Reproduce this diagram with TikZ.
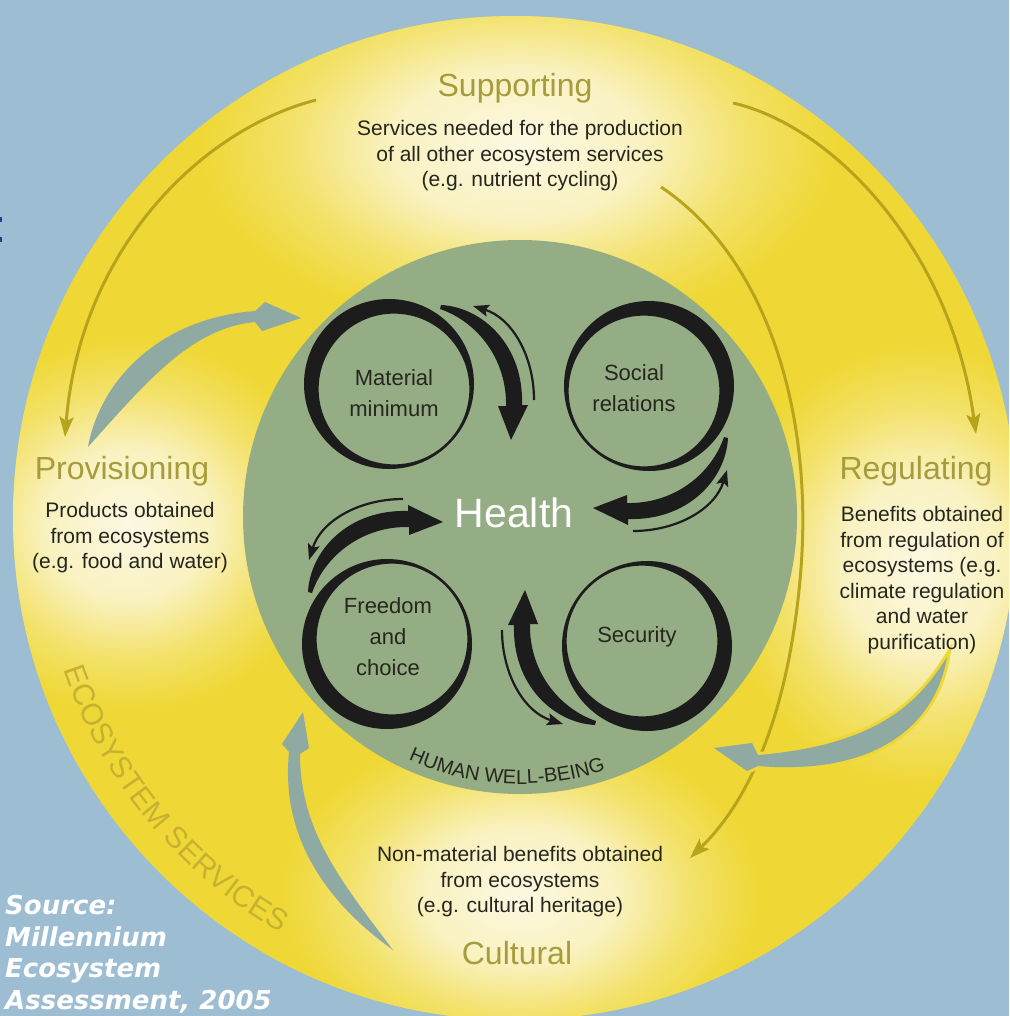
\documentclass[tikz,border=0pt]{standalone}
\usepackage{fontspec}
\setmainfont{Liberation Sans}
\newfontfamily\srcfont{DejaVu Sans}
\usetikzlibrary{arrows.meta,decorations.text,shadings}
\definecolor{bgblue}{HTML}{9DBDD3}
\definecolor{ringyel}{HTML}{EFD836}
\definecolor{glowc}{HTML}{FCF8E2}
\definecolor{wbgreen}{HTML}{95AD84}
\definecolor{olivel}{HTML}{B8A41C}
\definecolor{titleol}{HTML}{A69C3C}
\definecolor{swooshc}{HTML}{8EAAA2}
\definecolor{ink}{HTML}{1C1C1C}
\definecolor{bodyc}{HTML}{26261E}
\definecolor{esol}{HTML}{C6B230}
\definecolor{markblue}{HTML}{1F3F8F}
\pgfdeclareradialshading{glow}{\pgfpoint{0bp}{0bp}}{color(0bp)=(glowc); color(9bp)=(glowc!80!ringyel); color(16bp)=(glowc!30!ringyel); color(22bp)=(ringyel); color(50bp)=(ringyel)}
\tikzset{
  svctitle/.style={text=titleol, font=\fontsize{32}{36}\selectfont, inner sep=0},
  svcbody/.style={text=bodyc, align=center, font=\fontsize{21}{25.5}\selectfont, inner sep=0},
  wblabel/.style={text=bodyc, align=center, font=\fontsize{22}{31}\selectfont, inner sep=0},
  ringarrow/.style={draw=olivel, line width=3, -{Stealth[length=20pt,width=14pt,inset=4pt]}},
  swooshfill/.style={fill=swooshc},
  thinarrow/.style={draw=ink, line width=2.2, -{Stealth[length=16pt,width=12pt,inset=3pt]}},
}
\newcommand\wbquad{%
  \fill[ink] (389,384) circle[radius=85];
  \fill[wbgreen] (394,389) circle[radius=76];
  \draw[ink,line width=1.3] (394,389) circle[radius=76];
  \fill[ink] (441,305) .. controls (482,307) and (524,345) .. (522,405) -- (528,405) -- (511,440) -- (498,406) -- (506,406) .. controls (507,360) and (478,322) .. (440,309) -- cycle;
  \draw[thinarrow] (534,400) .. controls (534,356) and (512,318) .. (473,306);
}
\begin{document}
\begin{tikzpicture}[x=1pt,y=-1pt]
\useasboundingbox (0,0) rectangle (1009,1016);
\begin{scope}
\clip (0,0) rectangle (1009,1016);
\fill[bgblue] (0,0) rectangle (1009,1016);
\fill[markblue] (0,217) rectangle (2,222);
\fill[markblue] (0,237) rectangle (2,242);
\fill[ringyel] (515,518) circle[radius=502];
\begin{scope}
  \clip (515,518) circle[radius=502];
  \shade[shading=glow] (518,145) ellipse[x radius=360, y radius=210];
  \shade[shading=glow] (128,525) ellipse[x radius=230, y radius=210];
  \shade[shading=glow] (920,565) ellipse[x radius=220, y radius=250];
  \shade[shading=glow] (520,895) ellipse[x radius=270, y radius=190];
\end{scope}
% olive service arrows
\draw[ringarrow] (316,100) .. controls (200,130) and (80,250) .. (65,437);
\draw[ringarrow] (733,103) .. controls (830,125) and (950,245) .. (976,434);
\draw[ringarrow] (661,187) .. controls (770,260) and (815,420) .. (800,580) .. controls (790,690) and (760,790) .. (690,858);
% swooshes
\fill[swooshfill] (88,447) .. controls (100,380) and (160,318) .. (255,311) -- (265,302) -- (301,318) -- (262,331) -- (255,322) .. controls (192,328) and (148,380) .. (88,447) -- cycle;
\fill[swooshfill, preaction={draw=ringyel, line width=6}] (947,657) .. controls (920,700) and (880,745) .. (758,755) -- (752,743) -- (714,748) -- (747,771) -- (758,766) .. controls (880,776) and (936,722) .. (947,657) -- cycle;
\fill[swooshfill] (393,950) .. controls (330,905) and (280,840) .. (289,752) -- (282,744) -- (303,712) -- (309,748) -- (300,754) .. controls (300,830) and (340,880) .. (393,950) -- cycle;
% human well-being disk
\fill[wbgreen] (520,517) circle[radius=277];
\wbquad
\begin{scope}[rotate around={-90:(518,515)}]\wbquad\end{scope}
\begin{scope}[rotate around={180:(518,515)}]\wbquad\end{scope}
\begin{scope}[rotate around={90:(518,515)}]\wbquad\end{scope}
% labels
\node[wblabel] (matl) at (394,393) {Material\\minimum};
\node[wblabel] (soc) at (634,388) {Social\\relations};
\node[wblabel] (free) at (388,637) {Freedom\\and\\choice};
\node[wblabel] (sec) at (637,637) {Security};
\node[text=white, font=\fontsize{41}{41}\selectfont, inner sep=0] (health) at (514,513) {Health};
\path[decorate, decoration={text along path, text align=center,
  text={|\fontsize{20}{20}\selectfont\color{bodyc}|HUMAN WELL-BEING}}]
  (520,517) ++(125:267) arc[start angle=125, end angle=61, radius=267];
\path[decorate, decoration={text along path, text align=center,
  text={|\fontsize{30}{30}\selectfont\color{esol}|ECOSYSTEM SERVICES}}]
  (515,518) ++(170:476) arc[start angle=170, end angle=111, radius=476];
% service texts
\node[svctitle] (suptitle) at (515,88) {Supporting};
\node[svcbody] (supbody) at (520,156) {Services needed for the production\\of all other ecosystem services\\(e.g. nutrient cycling)};
\node[svctitle] (provtitle) at (122,471) {Provisioning};
\node[svcbody] (provbody) at (130,538) {Products obtained\\from ecosystems\\(e.g. food and water)};
\node[svctitle] (regtitle) at (916,471) {Regulating};
\node[svcbody] (regbody) at (922,580) {Benefits obtained\\from regulation of\\ecosystems (e.g.\\climate regulation\\and water\\purification)};
\node[svctitle] (culttitle) at (517,953) {Cultural};
\node[svcbody] (cultbody) at (520,882) {Non-material benefits obtained\\from ecosystems\\(e.g. cultural heritage)};
% source
\node[anchor=north west, align=left, inner sep=0, text=white,
  font=\srcfont\bfseries\itshape\fontsize{26}{31.5}\selectfont] (source) at (5,895)
  {Source:\\Millennium\\Ecosystem\\Assessment, 2005};
\end{scope}
\end{tikzpicture}
\end{document}
